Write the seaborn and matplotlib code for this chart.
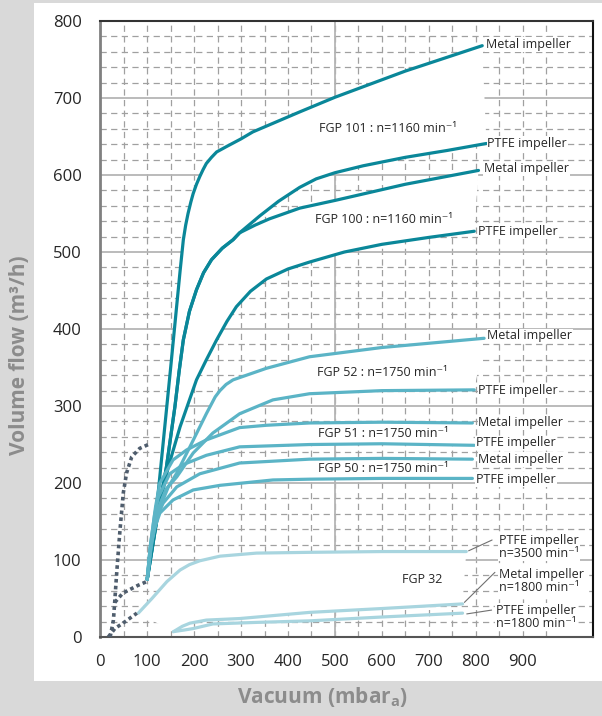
import numpy as np
import pandas as pd
import matplotlib
matplotlib.use('Agg')
import matplotlib.pyplot as plt
import seaborn as sns
from matplotlib.patches import Rectangle
from matplotlib.ticker import FixedLocator, MultipleLocator

# Pump curves: vacuum (mbar_a) vs volume flow (m3/h)
fgp101_metal_x = [100, 124, 150, 170, 177, 182, 187, 193, 198, 205, 212, 219, 226, 237, 248, 269, 300, 325, 375, 425, 500, 650, 814]
fgp101_metal_y = [75, 191, 350, 475, 516, 535, 550, 565, 576, 588, 598, 607, 615, 623, 630, 637, 647, 656, 669, 682, 701, 735, 768]

fgp101_ptfe_x = [100, 120, 141, 159, 168, 177, 190, 205, 220, 237, 260, 283, 297, 340, 380, 425, 460, 500, 560, 650, 740, 823]
fgp101_ptfe_y = [75, 150, 221, 299, 345, 386, 423, 451, 473, 490, 505, 516, 525, 547, 566, 584, 595, 603, 612, 623, 632, 641]

fgp100_metal_x = [100, 120, 141, 159, 168, 177, 190, 205, 220, 237, 260, 283, 297, 330, 360, 425, 500, 650, 806]
fgp100_metal_y = [75, 150, 221, 299, 345, 386, 423, 451, 473, 490, 505, 516, 525, 535, 543, 557, 567, 588, 606]

fgp100_ptfe_x = [100, 122, 145, 170, 205, 226, 248, 270, 290, 320, 354, 400, 446, 520, 600, 700, 797]
fgp100_ptfe_y = [75, 160, 221, 273, 334, 360, 386, 410, 429, 449, 465, 478, 487, 500, 510, 519, 527]

fgp52_metal_x = [100, 110, 125, 145, 163, 191, 226, 245, 255, 268, 283, 354, 446, 600, 818]
fgp52_metal_y = [75, 125, 165, 195, 213, 247, 290, 312, 320, 328, 334, 349, 364, 376, 388]

fgp52_ptfe_x = [100, 108, 122, 140, 163, 198, 240, 297, 368, 446, 600, 797]
fgp52_ptfe_y = [75, 120, 165, 192, 208, 239, 265, 290, 308, 316, 320, 321]

fgp51_metal_x = [100, 107, 118, 127, 155, 184, 226, 297, 354, 446, 600, 793]
fgp51_metal_y = [75, 120, 170, 200, 230, 243, 256, 272, 275, 278, 279, 278]

fgp51_ptfe_x = [100, 107, 116, 124, 148, 177, 226, 297, 446, 600, 797]
fgp51_ptfe_y = [75, 120, 160, 182, 212, 224, 236, 247, 250, 251, 249]

fgp50_metal_x = [100, 106, 120, 134, 163, 212, 297, 446, 600, 793]
fgp50_metal_y = [75, 115, 155, 174, 195, 212, 226, 231, 232, 231]

fgp50_ptfe_x = [100, 106, 115, 127, 155, 198, 255, 368, 446, 600, 793]
fgp50_ptfe_y = [75, 109, 140, 161, 178, 191, 197, 204, 205, 206, 206]

fgp32_ptfe3500_x = [81, 110, 142, 170, 190, 212, 255, 333, 446, 600, 780]
fgp32_ptfe3500_y = [31, 50, 72, 87, 94, 99, 105, 109, 110, 111, 111]

fgp32_metal1800_x = [156, 175, 191, 226, 297, 446, 600, 772]
fgp32_metal1800_y = [7, 14, 18, 22, 24, 32, 37, 43]

fgp32_ptfe1800_x = [156, 178, 198, 240, 333, 446, 600, 772]
fgp32_ptfe1800_y = [7, 9, 11, 17, 19, 21, 26, 31]

# dotted lower-range curves
dot_a_x = [21, 28, 31, 34, 37, 42, 49, 56, 67, 84, 106]
dot_a_y = [0, 22, 48, 75, 100, 139, 187, 213, 234, 245, 251]
dot_b_x = [31, 48, 80, 99]
dot_b_y = [45, 57, 67, 72]
dot_c_x = [17, 31, 53, 78]
dot_c_y = [0, 11, 20, 31]

DARK = '#0a8799'
MID = '#5bb4c6'
LIGHT = '#a8d5df'
DOT = '#4f5d6d'

curves = [
    (fgp101_metal_x, fgp101_metal_y, DARK),
    (fgp101_ptfe_x, fgp101_ptfe_y, DARK),
    (fgp100_metal_x, fgp100_metal_y, DARK),
    (fgp100_ptfe_x, fgp100_ptfe_y, DARK),
    (fgp52_metal_x, fgp52_metal_y, MID),
    (fgp52_ptfe_x, fgp52_ptfe_y, MID),
    (fgp51_metal_x, fgp51_metal_y, MID),
    (fgp51_ptfe_x, fgp51_ptfe_y, MID),
    (fgp50_metal_x, fgp50_metal_y, MID),
    (fgp50_ptfe_x, fgp50_ptfe_y, MID),
    (fgp32_ptfe3500_x, fgp32_ptfe3500_y, LIGHT),
    (fgp32_metal1800_x, fgp32_metal1800_y, LIGHT),
    (fgp32_ptfe1800_x, fgp32_ptfe1800_y, LIGHT),
]
dotted = [(dot_a_x, dot_a_y), (dot_b_x, dot_b_y), (dot_c_x, dot_c_y)]

# white areas between curve pairs (grid hidden there)
white_pairs = [
    (fgp101_metal_x, fgp101_metal_y, fgp101_ptfe_x, fgp101_ptfe_y),
    (fgp100_metal_x, fgp100_metal_y, fgp100_ptfe_x, fgp100_ptfe_y),
    (fgp52_metal_x, fgp52_metal_y, fgp52_ptfe_x, fgp52_ptfe_y),
    (fgp51_metal_x, fgp51_metal_y, fgp51_ptfe_x, fgp51_ptfe_y),
    (fgp50_metal_x, fgp50_metal_y, fgp50_ptfe_x, fgp50_ptfe_y),
    (fgp32_ptfe3500_x, fgp32_ptfe3500_y, fgp32_metal1800_x, fgp32_metal1800_y),
]

# labels at the curve ends
end_labels = ['Metal impeller', 'PTFE impeller', 'Metal impeller', 'PTFE impeller',
              'Metal impeller', 'PTFE impeller', 'Metal impeller', 'PTFE impeller',
              'Metal impeller', 'PTFE impeller',
              'PTFE impeller\nn=3500 min⁻¹', 'Metal impeller\nn=1800 min⁻¹',
              'PTFE impeller\nn=1800 min⁻¹']
end_label_x = [821, 825, 817, 806, 825, 806, 806, 801, 806, 801, 849, 849, 844]
end_label_y = [770, 641, 608, 527, 391, 320, 278, 252, 231, 205, 117, 73, 26]

model_labels = ['FGP 101 : n=1160 min⁻¹', 'FGP 100 : n=1160 min⁻¹', 'FGP 52 : n=1750 min⁻¹',
                'FGP 51 : n=1750 min⁻¹', 'FGP 50 : n=1750 min⁻¹', 'FGP 32']
model_label_x = [612, 605, 600, 602, 602, 687]
model_label_y = [660, 542, 343, 264, 219, 75]

# leader lines for the FGP 32 labels
leader_x = [[785, 835], [776, 841], [781, 834]]
leader_y = [[112, 126], [45, 84], [30, 35]]

sns.set_style('white')
plt.rcParams['font.family'] = ['Open Sans', 'DejaVu Sans']

fig = plt.figure(figsize=(6.02, 7.16), dpi=100, facecolor='#d9d9d9')
fig.patches.append(Rectangle((34 / 602, 35 / 716), 568 / 602, 678 / 716,
                             transform=fig.transFigure, facecolor='white',
                             edgecolor='none', zorder=-1))
ax = fig.add_axes([0.1666, 0.1103, 0.8184, 0.8603])
ax.set_xlim(0, 1050)
ax.set_ylim(0, 800)
ax.set_axisbelow(True)

# grid
ax.set_xticks(range(0, 1000, 100))
ax.xaxis.set_minor_locator(FixedLocator([v for v in range(50, 1000, 100)]))
ax.set_yticks(range(0, 900, 100))
ax.yaxis.set_minor_locator(MultipleLocator(20))
ax.grid(which='major', axis='y', color='#b5b5b5', lw=1.3, ls='-')
ax.grid(which='minor', axis='y', color='#a0a0a0', lw=0.9, ls=(0, (5, 3.5)))
ax.grid(which='both', axis='x', color='#a0a0a0', lw=0.9, ls=(0, (5, 3.5)))
ax.axvline(500, color='#b5b5b5', lw=1.3, zorder=0.6)

for ux, uy, lx, ly in white_pairs:
    ax.fill(list(ux) + list(lx)[::-1], list(uy) + list(ly)[::-1],
            color='white', lw=0, zorder=1)

for cx, cy, col in curves:
    sns.lineplot(x=cx, y=cy, ax=ax, color=col, linewidth=2.3, sort=False,
                 estimator=None, zorder=3)

for dx, dy in dotted:
    sns.lineplot(x=dx, y=dy, ax=ax, color=DOT, linewidth=2.6, sort=False,
                 estimator=None, linestyle=(0, (1.0, 0.9)), zorder=3)

for lx, ly in zip(leader_x, leader_y):
    ax.plot(lx, ly, color='#707070', lw=0.8, zorder=2)

for s, x, y in zip(end_labels, end_label_x, end_label_y):
    ax.text(x, y, s, fontsize=9, ha='left', va='center', linespacing=1.05,
            bbox=dict(facecolor='white', edgecolor='none', pad=0.6), zorder=4)

for s, x, y in zip(model_labels, model_label_x, model_label_y):
    ax.text(x, y, s, fontsize=9, ha='center', va='center',
            bbox=dict(facecolor='white', edgecolor='none', pad=0.6), zorder=4)

# spines and ticks
ax.spines['left'].set_color('#808080')
ax.spines['left'].set_linewidth(2)
ax.spines['bottom'].set_color('#555555')
ax.spines['bottom'].set_linewidth(1.5)
ax.spines['top'].set_color('#333333')
ax.spines['top'].set_linewidth(1.5)
ax.spines['right'].set_color('#111111')
ax.spines['right'].set_linewidth(1.5)
ax.tick_params(axis='y', which='major', direction='inout', length=9, width=2,
               color='black', labelsize=12, pad=9)
ax.tick_params(axis='x', which='major', direction='out', length=6, width=1.2,
               color='black', labelsize=12, pad=6)
ax.tick_params(which='minor', length=0)
ax.set_xlabel('')
ax.set_ylabel('')

fig.text(0.033, 0.504, 'Volume flow (m³/h)', rotation=90, ha='center', va='center',
         fontsize=15, fontweight='bold', color='#8c8c8c')
fig.text(0.535, 0.027, r'Vacuum (mbar$_{\mathregular{a}}$)', ha='center', va='center',
         fontsize=15, fontweight='bold', color='#8c8c8c')

fig.savefig('out.png', dpi=100, facecolor=fig.get_facecolor())
